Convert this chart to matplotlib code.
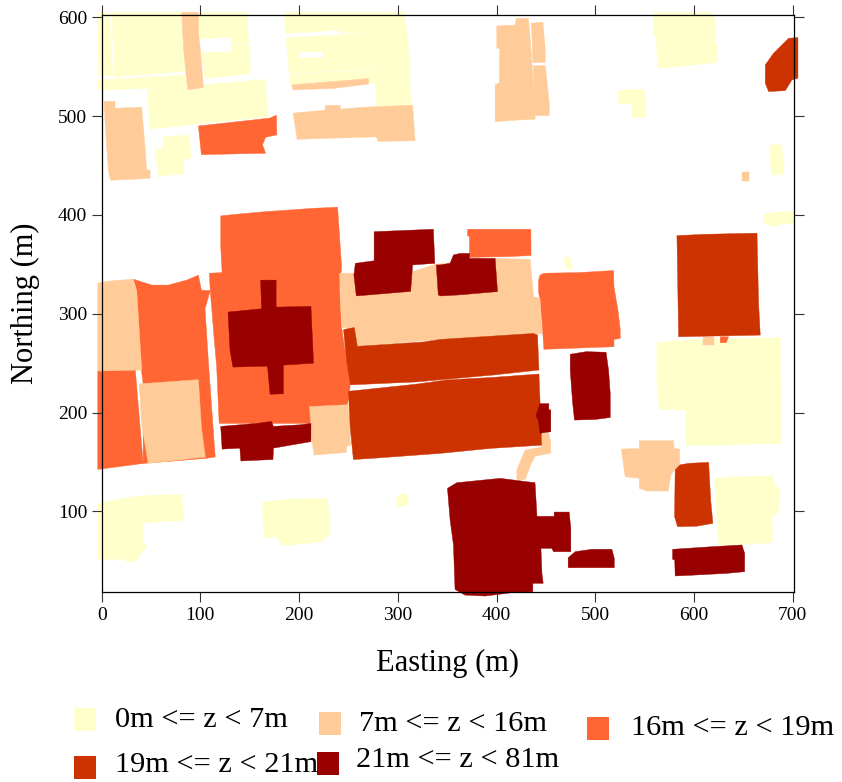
import matplotlib
matplotlib.use("Agg")
import matplotlib.pyplot as plt
from matplotlib.patches import Polygon, Rectangle

plt.rcParams['font.family'] = ['Liberation Serif', 'DejaVu Serif']

# building footprints (easting, northing), one list per height class
z_0_7 = [
    [(-4, 605), (8, 605), (11, 541), (-3, 541)],
    [(10.5, 605), (84, 605), (84, 545), (12.5, 540)],
    [(-4, 536.6), (84, 541.6), (86, 530), (-4, 526)],
    [(96, 605), (147, 605), (149, 574), (131, 574), (131, 580), (101, 578), (98, 584)],
    [(101, 564), (131, 565), (131, 573), (149, 573), (151, 543), (105, 538)],
    [(46, 527), (165, 537), (169, 499.5), (49, 487)],
    [(62.5, 479), (89, 481), (90.5, 457), (83, 456), (83, 441.5), (57.5, 439), (54, 466), (62, 467)],
    [(185, 605), (307, 605), (311, 567), (313.5, 510), (279, 510), (277, 533), (275, 584),
     (243, 584), (238, 587), (195, 584), (186, 584)],
    [(186.5, 579.5), (241.5, 582), (275.5, 584), (276, 548), (224, 545), (190, 543)],
    [(190, 542), (224, 544), (277, 547), (277, 533), (190, 532)],
    [(-3.7, 108), (32, 115), (55, 116.5), (81, 117.5), (83, 91), (41.5, 88), (41.5, 71),
     (45.6, 64), (33.8, 49), (25.3, 49), (22, 51.5), (-3.7, 51.5)],
    [(162.5, 109.8), (197.6, 113), (229, 113), (231.4, 77.8), (223, 69.4), (184, 65),
     (176.4, 74.4), (164.5, 72.7)],
    [(299, 115), (307.5, 119), (311.5, 113), (307.5, 105), (298.4, 105)],
    [(559, 605), (617.2, 605), (621.6, 597), (621.6, 573.7), (624, 572), (624, 554.5),
     (611.5, 553), (591.2, 550.8), (563.2, 548.4), (561.8, 580.4), (559, 582)],
    [(522.6, 524.8), (532, 527), (549, 527), (551.4, 519.7), (551.4, 498.8), (537.2, 498.8),
     (537.2, 513), (522.6, 513)],
    [(676.7, 471), (689, 471), (690, 460), (691.4, 452.3), (690.9, 440.5), (679, 440.5), (677.5, 452.3)],
    [(670.6, 400.7), (682.4, 402.7), (701.7, 403.4), (701.7, 391), (685.7, 390.5), (682.4, 388), (670.6, 391)],
    [(468.6, 357), (474.7, 357), (477.4, 346), (470.6, 345)],
    [(562.5, 271), (586, 273), (635, 275), (687.5, 275.7), (689, 168.8), (623, 167), (592, 167),
     (592, 202.5), (565, 203.2), (562.5, 226)],
    [(620.6, 133.4), (640, 135), (680.7, 135.7), (681.7, 125.6), (687.4, 123.3), (685.7, 99.7),
     (679, 94.6), (679.7, 68.3), (643.6, 66), (625, 66), (623.3, 94.6)],
]

z_16_19 = [
    [(98, 490), (170.5, 498), (177, 501), (177.5, 481), (166, 478.6), (163, 471), (166, 462.4), (101, 461)],
    [(120.6, 399), (140, 401), (167, 403.4), (191, 405), (214.5, 406.7), (239, 407.8), (243, 348), (241, 325),
     (243, 286.5), (248, 253), (251.7, 226), (249, 208), (211, 189), (119, 189), (116.5, 246),
     (113.5, 280), (111.5, 305), (110, 323.6), (109, 341), (122, 341.6), (120.6, 368)],
    [(32, 335), (50.7, 329), (67.6, 329), (86, 334), (98, 339), (101, 324), (103, 323.6), (110, 323.6),
     (104.7, 305), (108, 253), (114, 168.7), (115, 155), (105, 153.6), (42, 148.5), (42, 229), (39, 253), (35.5, 323)],
    [(-4, 242), (34, 243.8), (42, 148.5), (-4, 142.4)],
    [(370.6, 385.5), (434.8, 385.5), (435, 359), (416.5, 358), (372.6, 357), (372.6, 378), (370.6, 379)],
    [(448, 341), (483, 341.6), (518.6, 343.7), (519, 327.5), (521.3, 313.8), (523, 303.7), (525.3, 285),
     (525.3, 275), (519, 274), (519, 266.6), (448, 264), (446, 293.6), (444, 313.8), (442.6, 322),
     (442.6, 334), (444, 339)],
    [(626.7, 276.7), (635, 276.7), (632.8, 270.7), (626.7, 270.7)],
]

z_7_16 = [
    [(81, 605), (98, 605), (98, 584), (100, 567), (103, 529), (87, 526.5), (83, 567)],
    [(192.5, 531.5), (270, 538), (270.5, 532.5), (235, 528), (194, 526.5)],
    [(194, 503), (226, 506), (227, 511), (241.5, 511), (242, 507), (265, 509), (315, 511), (317.5, 475),
     (280, 474.5), (278, 479), (198, 476.5)],
    [(2.4, 515), (13.5, 515), (13.5, 508), (40.5, 509), (44, 468), (45.5, 446), (49, 445), (49, 437),
     (9, 435), (6.8, 444), (3.4, 493)],
    [(38, 229), (98, 233.3), (101, 185.5), (105, 155), (47, 148.6), (40.5, 189)],
    [(-4, 331), (7, 333), (32, 335), (35.5, 323), (40.6, 243), (-4, 242)],
    [(210.5, 206), (250, 208), (252, 167), (248, 165.6), (248, 159.6), (215, 157), (213, 172)],
    [(241, 341), (310, 341), (338, 350), (399, 356), (434, 355), (437.5, 317), (444, 316), (446, 280),
     (343, 274), (259, 267), (256.7, 284), (243, 286.5)],
    [(446, 179), (453, 179), (455, 169), (455, 159), (439, 155.7), (434, 145.6), (429, 132),
     (420.6, 132), (420.6, 142), (429, 162), (445.8, 165)],
    [(400.3, 591.2), (419, 592.2), (420, 599), (432.4, 599), (434.8, 568.6), (436.8, 540.6), (439.2, 496.8),
     (421.3, 496), (398.6, 494.4), (398.6, 531.5), (403, 534), (403, 568.6), (400.3, 568.6)],
    [(435, 594), (447, 595), (449.3, 568.6), (449.3, 554.5), (436.8, 554), (435.8, 584)],
    [(437.5, 551), (449.3, 551), (451, 536.6), (453.4, 513), (453.4, 500.5), (438, 500.5)],
    [(648.6, 443), (655.7, 443), (655.7, 434.7), (648.6, 434.7)],
    [(608.8, 276), (620.6, 276), (620.6, 268.3), (608.8, 268.3)],
    [(526.4, 163), (544.6, 163.6), (544.6, 171.5), (579.4, 171.5), (580, 163.6), (585.5, 163), (585.5, 148.6),
     (576.7, 136.8), (574, 120.6), (552.4, 120.6), (544.6, 123.3), (544.6, 133.4), (530.4, 135)],
]

z_19_21 = [
    [(245, 284), (256, 286), (259, 267), (326, 271.4), (343, 274), (437.5, 280), (441.5, 278.5), (443, 243),
     (397, 238), (370, 235.6), (319, 231), (251.7, 228), (248, 253)],
    [(250, 221.5), (317.6, 228.6), (349.6, 233), (397, 235.6), (443, 239), (445.8, 167), (393.6, 163.7),
     (343, 158.7), (272, 153.5), (255, 152.5), (251.7, 185.5)],
    [(582.8, 379), (611.5, 380.4), (663.9, 381.5), (665.5, 311), (667.2, 278.4), (584.5, 276.7)],
    [(581, 142), (585.5, 147), (594.6, 148.6), (614.9, 149.6), (617, 111.5), (619.2, 87.9), (603, 85),
     (583.4, 84.5), (580.4, 94.6)],
    [(696, 578.8), (705.4, 579.4), (705.4, 538.3), (699.3, 536.6), (692.6, 525.8), (675.7, 524.8),
     (672.3, 533.2), (672.3, 551.8), (680.7, 563.6)],
]

z_21_81 = [
    [(128, 301.7), (162, 305), (161, 334), (176.7, 334), (176.7, 306.7), (212, 307.4), (214.6, 250),
     (184, 248), (184, 219), (170.6, 218.5), (168, 247), (133, 246), (130, 263)],
    [(120.6, 186), (157, 189), (172, 191), (174, 186), (201, 187.6), (212, 189), (212, 170.6), (174, 164),
     (173.5, 152.5), (141, 151), (140, 164), (122, 163)],
    [(276, 383), (336, 385.5), (337.5, 351), (315, 349.4), (313, 322.6), (258, 318), (255.5, 339),
     (257, 351), (276, 353.6)],
    [(339, 349.4), (343, 349.4), (353, 351), (356.4, 359.5), (363, 361), (372.6, 361), (372.6, 356),
     (398.6, 356), (401, 322.4), (361.5, 319), (343, 318), (341, 319)],
    [(444, 209), (453, 209), (453, 203), (455, 202.6), (455, 180.6), (444, 179), (442.6, 191), (440, 197)],
    [(350.3, 123.3), (359.8, 129), (403.7, 133.4), (439, 129), (441, 95), (458.4, 95), (458.4, 99.3),
     (473.6, 99.3), (475.3, 82.8), (475.3, 59.2), (457.8, 59.2), (456, 62.6), (445, 62.6), (446, 37.3),
     (447.3, 27.2), (436.8, 27.2), (436.8, 18.7), (415.5, 17.7), (388.5, 14.3), (368, 15.3), (358, 21),
     (356.4, 66), (353, 91.2)],
    [(472.6, 53), (479.7, 59.2), (496.6, 61.6), (516.9, 61.6), (519.3, 52.4), (519.3, 43), (472.6, 43)],
    [(578.4, 61.6), (618, 64.2), (648.6, 66), (651.4, 57.5), (651.4, 39), (633.4, 37.3), (601.4, 35.6),
     (581, 34.6), (580.6, 50.8), (578.4, 51.5)],
    [(474.7, 259), (491, 261.6), (511, 261), (513.5, 243), (515.2, 219.4), (515.2, 195), (500, 193),
     (479, 192.4), (477, 211), (474.7, 243)],
]

# courtyard inside the top block
courtyards = [[(201, 564), (224, 565), (224, 559.5), (201, 559.5)]]

class_labels = ['0m <= z < 7m', '7m <= z < 16m', '16m <= z < 19m', '19m <= z < 21m', '21m <= z < 81m']
class_colors = ['#FFFFCC', '#FFCC99', '#FF6633', '#CC3300', '#990000']
x_ticks = [0, 100, 200, 300, 400, 500, 600, 700]
y_ticks = [100, 200, 300, 400, 500, 600]

W, H = 842, 782

fig = plt.figure(figsize=(W / 100, H / 100), dpi=100)
ax = fig.add_axes([101.7 / W, 1 - 592.3 / H, (794.3 - 101.7) / W, (592.3 - 15.3) / H])


def draw_class(footprints, color):
    for pts in footprints:
        ax.add_patch(Polygon(pts, closed=True, facecolor=color, edgecolor=color,
                             linewidth=0.3, clip_on=False, zorder=1))


# peach sits on top of the orange class in the map, so it goes after it
draw_class(z_0_7, class_colors[0])
draw_class(courtyards, 'white')
draw_class(z_16_19, class_colors[2])
draw_class(z_7_16, class_colors[1])
draw_class(z_19_21, class_colors[3])
draw_class(z_21_81, class_colors[4])

ax.set_xlim(0, 701.7)
ax.set_ylim(18.1, 602)
ax.set_xticks(x_ticks)
ax.set_yticks(y_ticks)
ax.tick_params(direction='out', length=7.5, width=0.8, color='#333333', labelsize=14,
               top=True, right=True, pad=3)
ax.set_axisbelow(False)
for s in ax.spines.values():
    s.set_linewidth(0.9)
    s.set_zorder(5)

fig.text(448 / W, 1 - 663 / H, 'Easting (m)', fontsize=22, ha='center', va='center')
fig.text(25 / W, 1 - 303 / H, 'Northing (m)', fontsize=22, rotation=90, ha='center', va='center')

# hand placed legend, the rows are not aligned in the original
swatch_left = [74, 319, 587, 74, 317]
swatch_top = [708, 712, 717, 756, 752]
label_left = [115, 359, 631, 115, 356]
label_base = [727, 731, 735, 772, 767]
for i, label in enumerate(class_labels):
    fig.add_artist(Rectangle((swatch_left[i] / W, 1 - (swatch_top[i] + 22.5) / H), 22 / W, 22.5 / H,
                             transform=fig.transFigure, facecolor=class_colors[i], edgecolor='none'))
    fig.text(label_left[i] / W, 1 - label_base[i] / H, label, fontsize=21.9, ha='left', va='baseline')

fig.savefig('out.png', dpi=100)
